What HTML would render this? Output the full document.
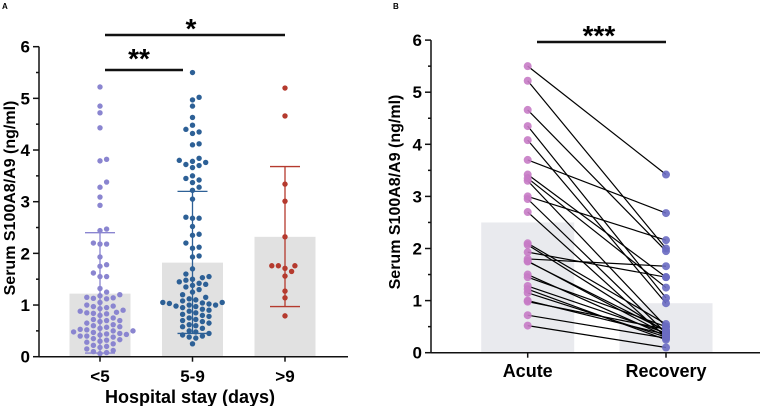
<!DOCTYPE html>
<html><head><meta charset="utf-8"><style>
body{margin:0;background:#fff}
svg{display:block;font-family:"Liberation Sans",Arial,sans-serif;font-weight:bold}
</style></head><body>
<svg id="c" width="760" height="406" viewBox="0 0 760 406"></svg>
<script>
const groupLabelsA=["<5","5-9",">9"];
const meansA=[1.22,1.82,2.32];
const errLowA=[0.07,0.45,0.97];
const errHighA=[2.4,3.2,3.68];
const valsLt5=[5.22,4.85,4.72,4.43,3.82,3.79,3.38,3.28,3.09,2.93,2.47,2.44,2.2,2.18,2.18,1.93,1.78,1.75,1.62,1.55,1.55,1.32,1.25,1.2,1.18,1.15,1.14,1.13,1.12,1.05,1.0,0.98,0.97,0.95,0.93,0.9,0.88,0.86,0.85,0.84,0.83,0.8,0.75,0.72,0.7,0.7,0.68,0.65,0.62,0.6,0.58,0.57,0.55,0.53,0.52,0.5,0.5,0.48,0.47,0.45,0.44,0.43,0.42,0.4,0.4,0.38,0.35,0.33,0.32,0.3,0.28,0.25,0.22,0.2,0.18,0.15,0.12,0.1,0.08,0.06];
const vals5to9=[5.5,5.02,4.97,4.85,4.63,4.48,4.4,4.35,4.32,4.12,4.1,3.84,3.8,3.78,3.76,3.72,3.7,3.66,3.5,3.45,3.42,3.37,3.28,3.22,3.05,2.7,2.68,2.68,2.52,2.37,2.35,2.2,2.12,2.1,1.95,1.93,1.7,1.6,1.55,1.53,1.5,1.48,1.45,1.42,1.4,1.38,1.35,1.3,1.25,1.2,1.15,1.12,1.1,1.08,1.05,1.05,1.04,1.03,1.02,1.0,1.0,0.98,0.97,0.95,0.92,0.9,0.88,0.85,0.82,0.8,0.78,0.75,0.72,0.7,0.68,0.65,0.62,0.6,0.58,0.55,0.5,0.48,0.45,0.42,0.4,0.38,0.36,0.25];
const valsGt9=[5.2,4.66,3.34,3.01,2.32,1.76,1.76,1.76,1.71,1.65,1.56,1.27,1.14,0.79];
const yTicks=[0,1,2,3,4,5,6];
const pairLabelsB=["Acute","Recovery"];
const meansB=[2.5,0.95];
const acuteVals=[5.5,5.22,4.66,4.35,4.08,3.7,3.42,3.35,3.3,3.0,2.95,2.7,2.1,2.07,1.93,1.8,1.76,1.75,1.5,1.45,1.28,1.22,1.15,1.0,0.98,0.72,0.52];
const recoveryVals=[3.42,2.0,1.95,1.05,0.95,2.68,1.45,1.25,0.5,2.16,0.38,0.3,0.55,0.4,1.45,1.66,0.35,0.42,0.32,0.5,0.38,0.25,0.3,0.35,0.45,0.28,0.1];

const svg=document.getElementById('c');const NS='http://www.w3.org/2000/svg';
function mk(tag,attrs,parent,text){const e=document.createElementNS(NS,tag);for(const k in attrs)e.setAttribute(k,attrs[k]);if(text!==undefined)e.textContent=text;(parent||svg).appendChild(e);return e;}

// Panel A
const yA=v=>356.7-v*51.67;
const xA=i=>100+i*92.5;
const colA=["#8a85d0","#2d6096","#b53a2e"];
const dataA=[valsLt5,vals5to9,valsGt9];
let t=mk('text',{x:2,y:9,'font-size':8},svg,'A');

for(let i=0;i<3;i++){
  const b=mk('rect',{x:xA(i)-30.5,y:yA(meansA[i]),width:61,height:yA(0)-yA(meansA[i]),fill:'#e1e1e1'});
  
}
for(let i=0;i<3;i++){
  const placed=[];const cx=xA(i);
  const sorted=dataA[i].slice().sort((a,b)=>a-b);
  const g=mk('g',{});
  sorted.forEach(v=>{
    const y=yA(v);let off=0;
    for(let k=0;k<60;k++){
      const cand=k===0?0:(k%2?1:-1)*Math.ceil(k/2)*3.3;
      if(placed.every(p=>Math.hypot(p[0]-(cx+cand),p[1]-y)>=6.2)){off=cand;break;}
    }
    placed.push([cx+off,y]);
    const c=mk('circle',{cx:cx+off,cy:y,r:2.7,fill:colA[i]},g);
    
  });
  const e=mk('g',{stroke:colA[i],'stroke-width':1.3});
  mk('line',{x1:cx,x2:cx,y1:yA(errLowA[i]),y2:yA(errHighA[i])},e);
  mk('line',{x1:cx-15,x2:cx+15,y1:yA(errLowA[i]),y2:yA(errLowA[i])},e);
  mk('line',{x1:cx-15,x2:cx+15,y1:yA(errHighA[i]),y2:yA(errHighA[i])},e);
  t=mk('text',{x:cx,y:382,'text-anchor':'middle','font-size':17},svg,groupLabelsA[i]);
  
}
function axis(x0,x1,yf,pref){
  const g=mk('g',{stroke:'#111','stroke-width':1.5});
  mk('line',{x1:x0,x2:x0,y1:yf(6),y2:yf(0)},g);mk('line',{x1:x0,x2:x1,y1:yf(0),y2:yf(0)},g);
  for(let v=0;v<=6;v+=0.5)mk('line',{x1:x0-(v%1?3:6),x2:x0,y1:yf(v),y2:yf(v)},g);
  yTicks.forEach(v=>{const tt=mk('text',{x:x0-9,y:yf(v)+6,'text-anchor':'end','font-size':17},svg,v);
    });
}
axis(39,348,yA,'panel-a');
for(let i=0;i<3;i++)mk('line',{x1:xA(i),x2:xA(i),y1:yA(0),y2:yA(0)+5,stroke:'#111','stroke-width':1.5});
t=mk('text',{x:0,y:0,'text-anchor':'middle','font-size':16,transform:'translate(15,198) rotate(-90)'},svg,'Serum S100A8/A9 (ng/ml)');

t=mk('text',{x:190,y:403,'text-anchor':'middle','font-size':18},svg,'Hospital stay (days)');

let s=mk('g',{});
mk('line',{x1:105,x2:183,y1:70,y2:70,stroke:'#111','stroke-width':2.5},s);
mk('text',{x:139,y:68,'text-anchor':'middle','font-size':28},s,'**');
s=mk('g',{});
mk('line',{x1:105,x2:285,y1:35,y2:35,stroke:'#111','stroke-width':2.5},s);
mk('text',{x:191,y:38,'text-anchor':'middle','font-size':28},s,'*');

// Panel B
const yB=v=>352.7-v*52.1;
const xB=i=>527.7+i*138.3;
t=mk('text',{x:393,y:9,'font-size':8},svg,'B');

for(let i=0;i<2;i++){
  const b=mk('rect',{x:xB(i)-46.5,y:yB(meansB[i]),width:93,height:yB(0)-yB(meansB[i]),fill:'#e9eaee'});
  
}
const lg=mk('g',{stroke:'#000','stroke-width':1.2});
acuteVals.forEach((v,k)=>{const l=mk('line',{x1:xB(0),y1:yB(v),x2:xB(1),y2:yB(recoveryVals[k])},lg);
  });
acuteVals.forEach(v=>{const c=mk('circle',{cx:xB(0),cy:yB(v),r:4,fill:'#c77bc5','fill-opacity':0.9});
  });
recoveryVals.forEach(v=>{const c=mk('circle',{cx:xB(1),cy:yB(v),r:4,fill:'#6a6cc2','fill-opacity':0.9});
  });
axis(431,760,yB,'panel-b');
for(let i=0;i<2;i++){mk('line',{x1:xB(i),x2:xB(i),y1:yB(0),y2:yB(0)+5,stroke:'#111','stroke-width':1.5});
  t=mk('text',{x:xB(i),y:377,'text-anchor':'middle','font-size':18},svg,pairLabelsB[i]);
  }
t=mk('text',{x:0,y:0,'text-anchor':'middle','font-size':16,transform:'translate(400,192) rotate(-90)'},svg,'Serum S100A8/A9 (ng/ml)');

s=mk('g',{});
mk('line',{x1:537,x2:666,y1:42,y2:42,stroke:'#111','stroke-width':2.5},s);
mk('text',{x:599,y:45,'text-anchor':'middle','font-size':28},s,'***');
</script>
</body></html>
